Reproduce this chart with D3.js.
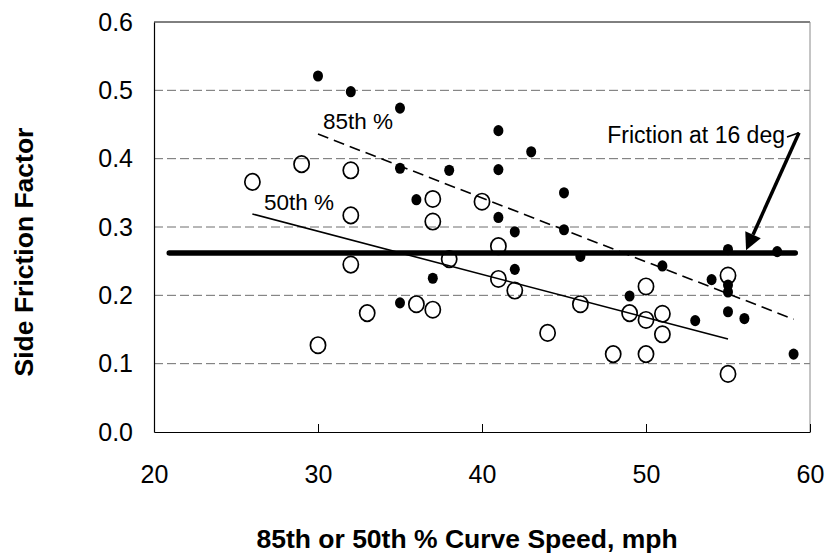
<!DOCTYPE html>
<html>
<head>
<meta charset="utf-8">
<script src="https://cdn.jsdelivr.net/npm/d3@7"></script>
<style>
  html, body { margin: 0; padding: 0; background: #ffffff; }
  svg { display: block; font-family: "Liberation Sans", Arial, sans-serif; }
</style>
</head>
<body>
<svg id="chart" width="825" height="556"></svg>
<script>
// ---- data ----
const speed85 = [30,32,35,35,38,36,41,43,41,45,41,42,45,46,37,35,42,51,55,58,54,55,55,49,55,56,53,59];
const friction85 = [0.521,0.498,0.474,0.386,0.383,0.340,0.441,0.410,0.384,0.350,0.314,0.293,0.296,0.257,0.225,0.189,0.238,0.243,0.267,0.264,0.223,0.215,0.205,0.199,0.176,0.166,0.163,0.114];

const speed50 = [26,29,32,32,37,37,40,41,32,38,36,37,33,30,41,42,46,55,50,49,50,51,51,44,48,50,55];
const friction50 = [0.366,0.392,0.383,0.317,0.341,0.308,0.337,0.272,0.245,0.253,0.187,0.179,0.174,0.127,0.224,0.207,0.187,0.229,0.213,0.174,0.164,0.173,0.143,0.145,0.114,0.114,0.085];

const fit50X = [26, 55];
const fit50Y = [0.319, 0.136];
const fit85X = [30, 59];
const fit85Y = [0.436, 0.165];

const friction16X = [20.93, 59.1];
const friction16Y = 0.262;

const xTicks = [20, 30, 40, 50, 60];
const yTicks = [0.0, 0.1, 0.2, 0.3, 0.4, 0.5, 0.6];

const labels = {
  xTitle: "85th or 50th % Curve Speed, mph",
  yTitle: "Side Friction Factor",
  p85: "85th %",
  p50: "50th %",
  f16: "Friction at 16 deg"
};
// arrow from label (data coords)
const arrowStart = [59.33, 0.438];
const arrowTip = [56.1, 0.266];

// ---- layout ----
const svg = d3.select("#chart");
const W = 825, H = 556;
const m = { left: 154, right: 15, top: 22, bottom: 124 };
const x = d3.scaleLinear().domain([20, 60]).range([m.left, W - m.right]);
const y = d3.scaleLinear().domain([0, 0.6]).range([H - m.bottom, m.top]);

// gridlines
svg.append("g").selectAll("line").data(yTicks.filter(d => d > 0 && d < 0.6)).join("line")
  .attr("x1", x(20)).attr("x2", x(60))
  .attr("y1", d => y(d)).attr("y2", d => y(d))
  .attr("stroke", "#6e6e6e").attr("stroke-width", 1).attr("stroke-dasharray", "9,4");

// frame: top and right
svg.append("line").attr("x1", x(20)).attr("x2", x(60)).attr("y1", y(0.6)).attr("y2", y(0.6))
  .attr("stroke", "#000").attr("stroke-width", 1);
svg.append("line").attr("x1", x(60)).attr("x2", x(60)).attr("y1", y(0.6)).attr("y2", y(0))
  .attr("stroke", "#8a8a8a").attr("stroke-width", 1);

// axes
const xAxis = d3.axisBottom(x).tickValues(xTicks).tickSizeInner(-8).tickSizeOuter(0).tickPadding(33).tickFormat(d3.format("d"));
const gx = svg.append("g").attr("transform", `translate(0,${y(0)})`).call(xAxis);
gx.select(".domain").attr("stroke", "#000").attr("stroke-width", 1.2);
gx.selectAll(".tick line").attr("stroke", "#000");
gx.selectAll("text").attr("font-size", 25).attr("fill", "#000")
  .attr("font-family", "'Liberation Sans', Arial, sans-serif");

const yAxis = d3.axisLeft(y).tickValues(yTicks).tickSizeInner(0).tickSizeOuter(0).tickPadding(21).tickFormat(d3.format(".1f"));
const gy = svg.append("g").attr("transform", `translate(${x(20)},0)`).call(yAxis);
gy.select(".domain").attr("stroke", "#000").attr("stroke-width", 1.2);
gy.selectAll("text").attr("font-size", 25).attr("fill", "#000")
  .attr("font-family", "'Liberation Sans', Arial, sans-serif");

// fit lines
const line = d3.line().x(d => x(d[0])).y(d => y(d[1]));
svg.append("path").datum(fit50X.map((v, i) => [v, fit50Y[i]])).attr("d", line)
  .attr("fill", "none").attr("stroke", "#000").attr("stroke-width", 1.6);
svg.append("path").datum(fit85X.map((v, i) => [v, fit85Y[i]])).attr("d", line)
  .attr("fill", "none").attr("stroke", "#000").attr("stroke-width", 1.6).attr("stroke-dasharray", "11,6");

// open circles (50th)
svg.append("g").selectAll("ellipse").data(speed50.map((v, i) => [v, friction50[i]])).join("ellipse")
  .attr("cx", d => x(d[0])).attr("cy", d => y(d[1]))
  .attr("rx", 7.6).attr("ry", 8.2)
  .attr("fill", "none").attr("stroke", "#000").attr("stroke-width", 1.7);

// filled dots (85th)
svg.append("g").selectAll("ellipse").data(speed85.map((v, i) => [v, friction85[i]])).join("ellipse")
  .attr("cx", d => x(d[0])).attr("cy", d => y(d[1]))
  .attr("rx", 5).attr("ry", 5.6)
  .attr("fill", "#000");

// friction at 16 deg line
svg.append("path").datum(friction16X.map(v => [v, friction16Y])).attr("d", line)
  .attr("fill", "none").attr("stroke", "#000").attr("stroke-width", 5.5).attr("stroke-linecap", "round");

// annotation text
svg.append("text").attr("x", x(30.3)).attr("y", 129).attr("font-size", 22.5).text(labels.p85);
svg.append("text").attr("x", x(26.7)).attr("y", 210).attr("font-size", 22.5).text(labels.p50);
svg.append("text").attr("x", 785).attr("y", 143).attr("text-anchor", "end").attr("font-size", 23).text(labels.f16);

// arrow
const [sx, sy] = [x(arrowStart[0]), y(arrowStart[1])];
const [tx, ty] = [x(arrowTip[0]), y(arrowTip[1])];
svg.append("line").attr("x1", 787).attr("y1", 137).attr("x2", sx).attr("y2", sy)
  .attr("stroke", "#000").attr("stroke-width", 1.5);
const ang = Math.atan2(ty - sy, tx - sx);
const headLen = 17, headW = 8.5;
const bx = tx - headLen * Math.cos(ang), by = ty - headLen * Math.sin(ang);
svg.append("line").attr("x1", sx).attr("y1", sy).attr("x2", bx).attr("y2", by)
  .attr("stroke", "#000").attr("stroke-width", 3.5);
const px = -Math.sin(ang), py = Math.cos(ang);
svg.append("path")
  .attr("d", `M${tx},${ty} L${bx + px * headW},${by + py * headW} L${bx - px * headW},${by - py * headW} Z`)
  .attr("fill", "#000");

// axis titles
svg.append("text").attr("x", 467).attr("y", 548).attr("text-anchor", "middle")
  .attr("font-size", 26.5).attr("font-weight", "bold").text(labels.xTitle);
svg.append("text").attr("transform", `translate(33,${252}) rotate(-90)`).attr("text-anchor", "middle")
  .attr("font-size", 26.5).attr("font-weight", "bold").text(labels.yTitle);
</script>
</body>
</html>
